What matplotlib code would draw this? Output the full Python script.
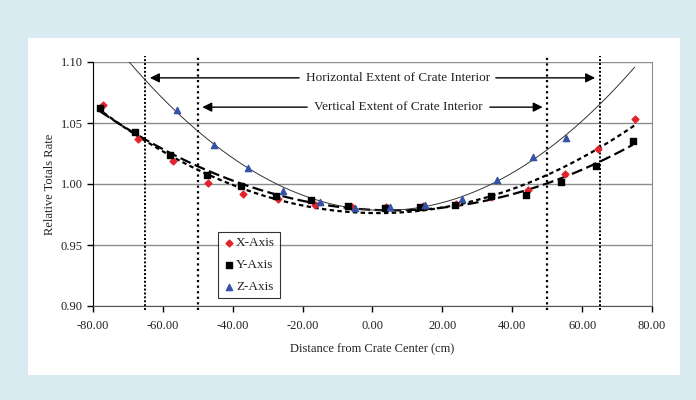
import numpy as np
import matplotlib.pyplot as plt
from matplotlib.patches import Rectangle

plt.rcParams["font.family"] = ["Liberation Serif", "DejaVu Serif"]

# =============================
# Data
# =============================
x_axis_pos = [-77, -67, -57, -47, -37, -27, -16.5, -6, 4, 14.5, 24, 34, 44.5, 55, 64.5, 75]
x_axis_val = [1.065, 1.037, 1.019, 1.001, 0.992, 0.988, 0.983, 0.981, 0.981, 0.982, 0.984,
              0.989, 0.995, 1.008, 1.029, 1.053]

y_axis_pos = [-78, -68, -58, -47.5, -37.5, -27.5, -17.5, -7, 3.5, 13.5, 23.5, 34, 44, 54, 64, 74.5]
y_axis_val = [1.062, 1.043, 1.024, 1.007, 0.998, 0.990, 0.987, 0.982, 0.980, 0.981, 0.983,
              0.990, 0.991, 1.002, 1.015, 1.035]

z_axis_pos = [-56, -45.5, -35.5, -25.5, -15, -5, 5, 15, 25.5, 35.5, 46, 55.5]
z_axis_val = [1.061, 1.032, 1.013, 0.994, 0.985, 0.980, 0.981, 0.983, 0.988, 1.003, 1.022, 1.038]

horiz_extent = [-65, 65]
vert_extent = [-50, 50]

x_ticks = [-80, -60, -40, -20, 0, 20, 40, 60, 80]
y_ticks = [0.90, 0.95, 1.00, 1.05, 1.10]

# =============================
# Figure and panel
# =============================
fig = plt.figure(figsize=(6.96, 4.00), dpi=100)
fig.patch.set_facecolor("#d7ebf1")
fig.patches.append(Rectangle((0.040, 0.0625), 0.937, 0.8425, transform=fig.transFigure,
                             facecolor="white", edgecolor="none", zorder=-5))

ax = fig.add_axes([0.1336, 0.235, 0.8032, 0.61])
ax.set_facecolor("white")

# ---- gridlines ----
for yv in y_ticks:
    ax.axhline(yv, color="#8c8c8c", lw=1.0, zorder=1)

# ---- trendlines (2nd order polynomial) ----
cx = np.polyfit(x_axis_pos, x_axis_val, 2)
cy = np.polyfit(y_axis_pos, y_axis_val, 2)
cz = np.polyfit(z_axis_pos, z_axis_val, 2)

tx = np.linspace(min(x_axis_pos), max(x_axis_pos), 200)
ty = np.linspace(min(y_axis_pos), max(y_axis_pos), 200)
tz = np.linspace(-72, 75, 200)

ax.plot(tx, np.polyval(cx, tx), color="black", lw=1.6, ls=(0, (2, 1.5)), zorder=3)
ax.plot(ty, np.polyval(cy, ty), color="black", lw=1.6, ls=(0, (5, 2)), zorder=3)
ax.plot(tz, np.polyval(cz, tz), color="#333333", lw=0.7, zorder=3)

# ---- series ----
ax.scatter(x_axis_pos, x_axis_val, marker="D", s=12, color="#e3232b", zorder=4, label="X-Axis")
ax.scatter(y_axis_pos, y_axis_val, marker="s", s=24, color="black", zorder=5, label="Y-Axis")
ax.scatter(z_axis_pos, z_axis_val, marker="^", s=20, color="#3553a6", zorder=6, label="Z-Axis")

# ---- vertical extent lines ----
for xv in horiz_extent:
    ax.plot([xv, xv], [0.897, 1.105], color="black", lw=1.4, ls=(0, (1, 1.0)),
            clip_on=False, zorder=2)
for xv in vert_extent:
    ax.plot([xv, xv], [0.897, 1.106], color="black", lw=1.6, ls=(0, (1, 1.5)),
            clip_on=False, zorder=2)

# ---- annotations ----
arrow = dict(arrowstyle="-|>", color="black", lw=1.0, mutation_scale=14)

ax.text(7.3, 1.087, "Horizontal Extent of Crate Interior", ha="center", va="center",
        fontsize=9.5, color="#222222")
ax.annotate("", xy=(horiz_extent[0] + 0.5, 1.087), xytext=(-20.2, 1.087), arrowprops=arrow)
ax.annotate("", xy=(horiz_extent[1] - 0.5, 1.087), xytext=(34.5, 1.087), arrowprops=arrow)

ax.text(7.5, 1.063, "Vertical Extent of Crate Interior", ha="center", va="center",
        fontsize=9.5, color="#222222")
ax.annotate("", xy=(vert_extent[0] + 0.5, 1.063), xytext=(-17.9, 1.063), arrowprops=arrow)
ax.annotate("", xy=(vert_extent[1] - 0.5, 1.063), xytext=(32.8, 1.063), arrowprops=arrow)

# ---- axes ----
ax.set_xlim(-80, 80)
ax.set_ylim(0.90, 1.10)
ax.set_xticks(x_ticks)
ax.set_xticklabels([f"{v:.2f}" for v in x_ticks])
ax.set_yticks(y_ticks)
ax.set_yticklabels([f"{v:.2f}" for v in y_ticks])
ax.tick_params(axis="both", labelsize=9, direction="out", length=4, width=1, color="black",
               labelcolor="#222222")
ax.tick_params(axis="x", pad=6)

ax.spines["top"].set_visible(False)
ax.spines["right"].set_color("#8c8c8c")
ax.spines["left"].set_color("black")
ax.spines["bottom"].set_color("#555555")

ax.set_xlabel("Distance from Crate Center (cm)", fontsize=9, labelpad=8, color="#222222")
ax.set_ylabel("Relative Totals Rate", fontsize=9, labelpad=3, color="#222222")

leg = ax.legend(loc="lower left", bbox_to_anchor=(0.224, 0.033), fontsize=9.5,
                frameon=True, fancybox=False, edgecolor="black", handletextpad=0.0,
                handlelength=1.0, borderpad=0.35, labelspacing=0.75, borderaxespad=0)
leg.get_frame().set_linewidth(0.8)
for t in leg.get_texts():
    t.set_color("#222222")

plt.savefig("out.png", dpi=100, facecolor=fig.get_facecolor())
